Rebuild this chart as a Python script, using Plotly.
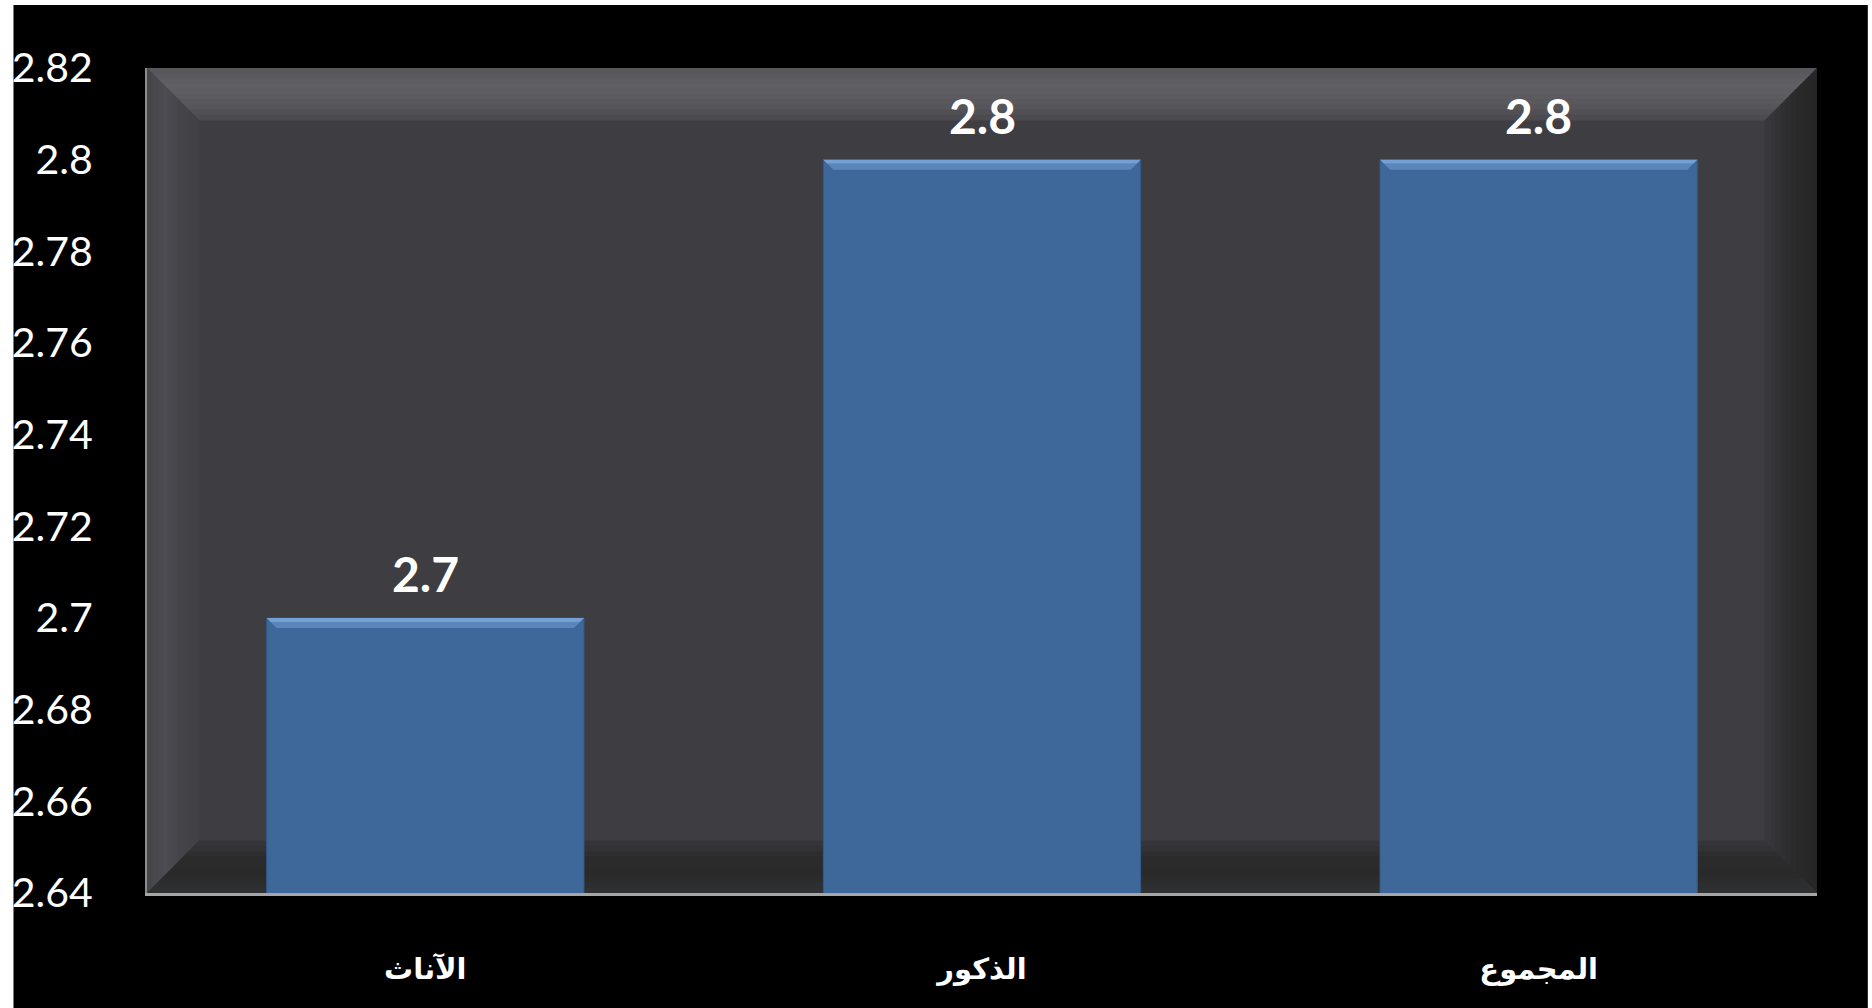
import plotly.graph_objects as go

categories = ["الآناث", "الذكور", "المجموع"]
values = [2.7, 2.8, 2.8]
value_labels = ["2.7", "2.8", "2.8"]
y_ticks = [2.64, 2.66, 2.68, 2.70, 2.72, 2.74, 2.76, 2.78, 2.80, 2.82]
y_tick_labels = ["2.64", "2.66", "2.68", "2.7", "2.72", "2.74", "2.76", "2.78", "2.8", "2.82"]

W, H = 1872, 1008
ML, MR, MT, MB = 141, 55, 68, 115
PW, PH = W - ML - MR, H - MT - MB
YMIN, YMAX = 2.64, 2.82
BAR_W = 0.57

x_pos = list(range(len(categories)))

fig = go.Figure()
fig.add_trace(go.Bar(
    x=x_pos, y=values, width=BAR_W,
    marker=dict(color="#3e6899", line=dict(color="#34598a", width=1)),
    hoverinfo="skip",
))

shapes = []
ux, uy = 1.0 / PW, 1.0 / PH

# page: white border + black background
shapes.append(dict(type="rect", xref="paper", yref="paper",
                   x0=(7 - ML) * ux, x1=(1868 - ML) * ux,
                   y0=-(MB + 20) * uy, y1=(PH + MT - 5) * uy,
                   fillcolor="black", line=dict(width=0), layer="below"))
# plot area centre
shapes.append(dict(type="rect", xref="paper", yref="paper", x0=0, x1=1, y0=0, y1=1,
                   fillcolor="#3e3d42", line=dict(width=0), layer="below"))


def hex2rgb(h):
    h = h.lstrip("#")
    return [int(h[i:i + 2], 16) for i in (0, 2, 4)]


def interp(stops, t):
    n = len(stops) - 1
    k = min(int(t * n), n - 1)
    f = t * n - k
    a, b = hex2rgb(stops[k]), hex2rgb(stops[k + 1])
    return "rgb(%d,%d,%d)" % tuple(round(a[i] + (b[i] - a[i]) * f) for i in range(3))


BEVEL = 52
NSTRIPE = 10
side_stops = {
    "top": ["#56565b", "#5f5f64", "#59595e", "#4a494e"],
    "left": ["#444449", "#4c4c51", "#454449", "#424146"],
    "right": ["#252626", "#29292a", "#2f2f31", "#3a393d"],
    "bottom": ["#303133", "#2a2a2b", "#2b2b2c", "#37363a"],
}


def trap(side, a, b):
    ax, ay, bx, by = a * ux, a * uy, b * ux, b * uy
    if side == "top":
        pts = [(ax, 1 - ay), (1 - ax, 1 - ay), (1 - bx, 1 - by), (bx, 1 - by)]
    elif side == "bottom":
        pts = [(ax, ay), (1 - ax, ay), (1 - bx, by), (bx, by)]
    elif side == "left":
        pts = [(ax, ay), (ax, 1 - ay), (bx, 1 - by), (bx, by)]
    else:
        pts = [(1 - ax, ay), (1 - ax, 1 - ay), (1 - bx, 1 - by), (1 - bx, by)]
    return "M " + " L ".join("%.5f,%.5f" % p for p in pts) + " Z"


for side, stops in side_stops.items():
    for i in range(NSTRIPE):
        a = BEVEL * i / NSTRIPE
        b = BEVEL * (i + 1) / NSTRIPE + 0.6
        shapes.append(dict(type="path", xref="paper", yref="paper", path=trap(side, a, b),
                           fillcolor=interp(stops, (i + 0.5) / NSTRIPE),
                           line=dict(width=0), layer="below"))

# bar top bevels, derived from data
px_x = 3.0 / PW
px_y = (YMAX - YMIN) / PH
for xi, v in zip(x_pos, values):
    x0, x1 = xi - BAR_W / 2, xi + BAR_W / 2
    for (a, b, col) in [(0, 4, "#74a0d6"), (4, 10, "#5b86bc")]:
        pts = [(x0 + a * px_x, v - a * px_y), (x1 - a * px_x, v - a * px_y),
               (x1 - b * px_x, v - b * px_y), (x0 + b * px_x, v - b * px_y)]
        shapes.append(dict(type="path", xref="x", yref="y",
                           path="M " + " L ".join("%.5f,%.6f" % p for p in pts) + " Z",
                           fillcolor=col, line=dict(width=0), layer="above"))

annotations = []
for xi, v, lab in zip(x_pos, values, value_labels):
    annotations.append(dict(x=xi, y=v, text="<b>%s</b>" % lab, showarrow=False,
                            yanchor="bottom", yshift=14,
                            font=dict(family="Lato", size=48, color="white")))

fig.update_layout(
    width=W, height=H,
    margin=dict(l=ML, r=MR, t=MT, b=MB, pad=0),
    paper_bgcolor="white",
    plot_bgcolor="#3e3d42",
    showlegend=False,
    shapes=shapes,
    annotations=annotations,
    bargap=1 - BAR_W,
)
fig.update_xaxes(
    range=[-0.5, 2.5], tickvals=x_pos, ticktext=["<b>%s</b>" % c for c in categories],
    showgrid=False, zeroline=False, showline=True, linecolor="#a6a6a6", linewidth=3,
    ticks="", ticklabelstandoff=48,
    tickfont=dict(family="DejaVu Sans", size=29, color="white"),
    fixedrange=True,
)
fig.update_yaxes(
    range=[YMIN, YMAX], tickvals=y_ticks, ticktext=y_tick_labels,
    showgrid=False, zeroline=False, showline=True, linecolor="#8c8c8c", linewidth=2,
    ticks="", ticklabelstandoff=44,
    tickfont=dict(family="Lato", size=41, color="white"),
    fixedrange=True,
)

fig.write_html("out.html", config={"displayModeBar": False},
               post_script="document.body.style.margin='0px';document.body.style.overflow='hidden';")
